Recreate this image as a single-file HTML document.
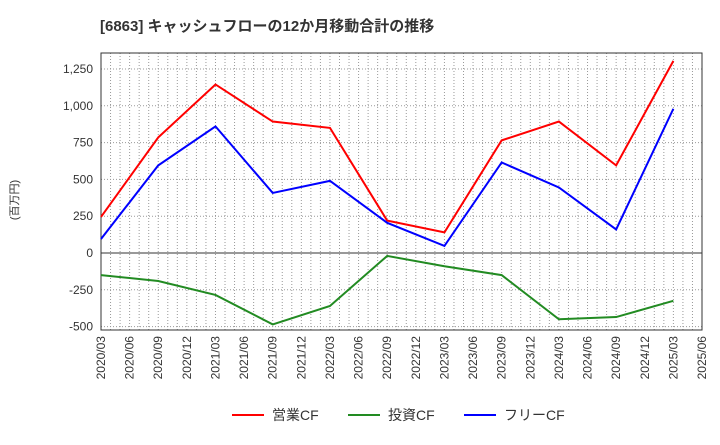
<!DOCTYPE html>
<html><head><meta charset="utf-8"><style>
body{margin:0;background:#fff;}
text{font-family:"Liberation Sans","Noto Sans CJK JP",sans-serif;}
</style></head><body>
<svg id="c" width="720" height="440" xmlns="http://www.w3.org/2000/svg">
<text x="100" y="31" font-size="15" font-weight="bold" fill="#333">[6863]  キャッシュフローの12か月移動合計の推移</text>
<text x="18" y="200" font-size="11" fill="#333" transform="rotate(-90 18 200)" text-anchor="middle">(百万円)</text>
<g id="grid"></g><g id="axes"></g><g id="series"></g><g id="legend"></g>
</svg>
<script>
const labels=["2020/03","2020/09","2021/03","2021/09","2022/03","2022/09","2023/03","2023/09","2024/03","2024/09","2025/03"];
const idx=[0,6,12,18,24,30,36,42,48,54,60];
const operating=[245,785,1145,893,850,220,140,765,893,595,1305];
const investing=[-150,-190,-285,-485,-360,-20,-90,-150,-450,-435,-325];
const free=[95,595,860,408,490,205,48,615,445,160,980];
const yTicks=[-500,-250,0,250,500,750,1000,1250];
const ns="http://www.w3.org/2000/svg";
const L=101,R=702,T=53,B=330;
const x=m=>L+(m)*(R-L)/63;
const y=v=>253-v*0.1472;
function el(t,a,p){const e=document.createElementNS(ns,t);for(const k in a)e.setAttribute(k,a[k]);document.getElementById(p).appendChild(e);return e;}
for(let m=1;m<63;m++){const g=el('line',{x1:x(m),x2:x(m),y1:T,y2:B,stroke:'#999','stroke-dasharray':'1,2','stroke-width':1},'grid');

}
yTicks.forEach(v=>{const g=el('line',{x1:L,x2:R,y1:y(v),y2:y(v),stroke:v===0?'#333':'#999','stroke-dasharray':v===0?'':'1,2','stroke-width':1},'grid');


const t=el('text',{x:L-8,y:y(v)+4,'font-size':12,fill:'#333','text-anchor':'end'},'axes');t.textContent=v.toLocaleString('en-US');

});
const fr=el('rect',{x:L,y:T,width:R-L,height:B-T,fill:'none',stroke:'#333'},'axes');


for(let q=0;q<=21;q++){const m=q*3;const yr=2020+Math.floor((m+2)/12);const mo=((m+2)%12)+1;
const s=yr+'/'+String(mo).padStart(2,'0');const xx=x(m)+4;
const t=el('text',{x:xx,y:B+6,'font-size':12,fill:'#333','text-anchor':'end',transform:`rotate(-90 ${xx} ${B+6})`},'axes');t.textContent=s;

}
[[operating,'#f00','operating-cf-line'],[investing,'#228b22','investing-cf-line'],[free,'#00f','free-cf-line']].forEach(([d,c,n])=>{
const p=el('polyline',{points:d.map((v,i)=>x(idx[i])+','+y(v)).join(' '),fill:'none',stroke:c,'stroke-width':2},'series');

});
[['営業CF','#f00',232],['投資CF','#228b22',348],['フリーCF','#00f',464]].forEach(([t,c,xx])=>{
const g=el('g',{},'legend');


const l=document.createElementNS(ns,'line');l.setAttribute('x1',xx);l.setAttribute('x2',xx+32);l.setAttribute('y1',415);l.setAttribute('y2',415);l.setAttribute('stroke',c);l.setAttribute('stroke-width',2);g.appendChild(l);
const tx=document.createElementNS(ns,'text');tx.setAttribute('x',xx+40);tx.setAttribute('y',420);tx.setAttribute('font-size',14);tx.setAttribute('fill','#333');tx.textContent=t;g.appendChild(tx);});
</script>
</body></html>
